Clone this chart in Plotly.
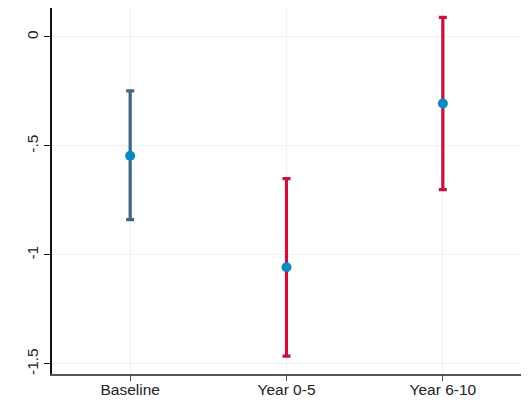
import plotly.graph_objects as go

categories = ["Baseline", "Year 0-5", "Year 6-10"]
estimates = [-0.545, -1.056, -0.305]
ci_lower = [-0.838, -1.464, -0.700]
ci_upper = [-0.247, -0.650, 0.090]
bar_colors = ["#3D6784", "#C8103E", "#C8103E"]
y_tickvals = [0, -0.5, -1, -1.5]
y_ticktext = ["0", "-.5", "-1", "-1.5"]

fig = go.Figure()
for i, cat in enumerate(categories):
    fig.add_trace(go.Scatter(
        x=[i], y=[estimates[i]], mode="markers",
        marker=dict(color="#0C89C3", size=10),
        error_y=dict(type="data", symmetric=False,
                     array=[ci_upper[i] - estimates[i]],
                     arrayminus=[estimates[i] - ci_lower[i]],
                     color=bar_colors[i], thickness=3.2, width=4),
        showlegend=False, hoverinfo="skip"))

fig.update_layout(
    width=531, height=416,
    margin=dict(l=52, r=10, t=8, b=42),
    paper_bgcolor="white", plot_bgcolor="white",
    font=dict(family="Liberation Sans, Arial", size=15.5, color="#222"),
    xaxis=dict(range=[-0.5, 2.5], tickvals=[0, 1, 2], ticktext=categories,
               showgrid=True, gridcolor="#EAF2F3", gridwidth=1,
               showline=True, linecolor="#555", linewidth=1.5,
               ticks="outside", ticklen=5, tickcolor="#555", zeroline=False,
               ticklabelstandoff=-4),
    yaxis=dict(range=[-1.546, 0.133], tickvals=y_tickvals, ticktext=y_ticktext,
               tickangle=-90, showgrid=True, gridcolor="#EAF2F3", gridwidth=1,
               showline=True, linecolor="#111", linewidth=1.5,
               ticks="outside", ticklen=6, tickcolor="#111", zeroline=False),
)
fig.write_html("out.html")
